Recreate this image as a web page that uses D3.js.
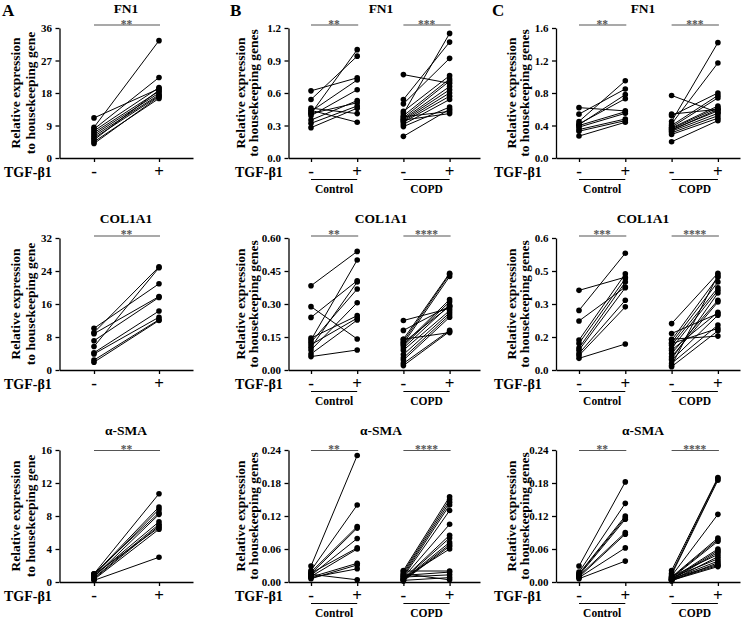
<!DOCTYPE html>
<html><head><meta charset="utf-8">
<script src="https://cdn.jsdelivr.net/npm/d3@7"></script>
<style>
body{margin:0;background:#fff;}
svg{display:block;}
</style></head>
<body><svg id="c" width="743" height="619"></svg>
<script>
// ---------- DATA ----------
const genes = ["FN1", "COL1A1", "α-SMA"];
const groupNames = ["Control", "COPD"];
const treatLabels = ["-", "+"];

// Column A (single group)
const A_FN1_minus = [11.1, 8.5, 8.0, 7.5, 7.0, 6.5, 6.0, 5.5, 5.0, 4.5, 4.0];
const A_FN1_plus  = [19.2, 32.5, 22.3, 19.5, 18.5, 18.0, 17.5, 17.2, 18.8, 16.5, 17.0];
const A_COL_minus = [10.1, 9.1, 8.8, 5.7, 7.1, 4.2, 3.9, 2.4, 1.9];
const A_COL_plus  = [20.9, 25.0, 17.8, 24.8, 17.6, 14.3, 12.8, 12.2, 12.0];
const A_SMA_minus = [1.0, 0.9, 0.8, 1.0, 0.6, 0.7, 0.5, 0.4, 0.3, 0.2, 0.9];
const A_SMA_plus  = [10.7, 9.1, 8.8, 8.4, 8.2, 7.3, 7.0, 6.8, 6.4, 3.0, 6.6];

// Column B
const B_FN1_ctl_minus = [0.62, 0.54, 0.41, 0.43, 0.46, 0.39, 0.35, 0.32, 0.28, 0.41, 0.44];
const B_FN1_ctl_plus  = [0.74, 0.94, 1.00, 0.72, 0.41, 0.63, 0.53, 0.48, 0.46, 0.51, 0.33];
const B_FN1_copd_minus = [0.77, 0.54, 0.50, 0.41, 0.43, 0.39, 0.37, 0.36, 0.35, 0.34, 0.33, 0.31, 0.29, 0.20, 0.38, 0.35];
const B_FN1_copd_plus  = [0.69, 1.07, 0.92, 1.15, 0.76, 0.73, 0.71, 0.66, 0.63, 0.60, 0.57, 0.54, 0.47, 0.45, 0.43, 0.41];
const B_COL_ctl_minus = [0.383, 0.288, 0.239, 0.145, 0.136, 0.126, 0.103, 0.091, 0.073, 0.061, 0.115];
const B_COL_ctl_plus  = [0.539, 0.141, 0.406, 0.247, 0.500, 0.368, 0.400, 0.306, 0.227, 0.091, 0.236];
const B_COL_copd_minus = [0.225, 0.18, 0.14, 0.13, 0.12, 0.115, 0.11, 0.10, 0.09, 0.07, 0.055, 0.045, 0.03, 0.02, 0.14, 0.125];
const B_COL_copd_plus  = [0.28, 0.29, 0.44, 0.435, 0.425, 0.32, 0.31, 0.295, 0.27, 0.26, 0.25, 0.24, 0.18, 0.175, 0.17, 0.29];
const B_SMA_ctl_minus = [0.029, 0.021, 0.018, 0.015, 0.012, 0.016, 0.010, 0.009, 0.008, 0.014, 0.006];
const B_SMA_ctl_plus  = [0.230, 0.140, 0.101, 0.098, 0.079, 0.062, 0.060, 0.034, 0.024, 0.004, 0.031];
const B_SMA_copd_minus = [0.021, 0.018, 0.015, 0.012, 0.010, 0.008, 0.006, 0.005, 0.004, 0.003, 0.002, 0.007, 0.020, 0.012, 0.009, 0.003, 0.015];
const B_SMA_copd_plus  = [0.155, 0.150, 0.145, 0.140, 0.130, 0.105, 0.085, 0.080, 0.072, 0.068, 0.065, 0.060, 0.020, 0.018, 0.013, 0.008, 0.004];

// Column C
const C_FN1_ctl_minus = [0.62, 0.54, 0.45, 0.42, 0.40, 0.38, 0.35, 0.33, 0.27, 0.41];
const C_FN1_ctl_plus  = [0.58, 0.85, 0.95, 0.73, 0.57, 0.55, 0.48, 0.46, 0.44, 0.78];
const C_FN1_copd_minus = [0.77, 0.54, 0.45, 0.42, 0.52, 0.40, 0.38, 0.37, 0.36, 0.35, 0.33, 0.31, 0.29, 0.20, 0.34];
const C_FN1_copd_plus  = [0.56, 0.60, 1.42, 1.17, 0.80, 0.77, 0.74, 0.64, 0.62, 0.58, 0.55, 0.52, 0.49, 0.46, 0.60];
const C_COL_ctl_minus = [0.362, 0.271, 0.223, 0.136, 0.121, 0.090, 0.075, 0.066, 0.053, 0.100];
const C_COL_ctl_plus  = [0.422, 0.531, 0.377, 0.437, 0.415, 0.374, 0.317, 0.287, 0.118, 0.400];
const C_COL_copd_minus = [0.211, 0.166, 0.136, 0.124, 0.113, 0.098, 0.075, 0.060, 0.045, 0.030, 0.015, 0.140, 0.120, 0.090, 0.050, 0.020];
const C_COL_copd_plus  = [0.440, 0.256, 0.422, 0.400, 0.374, 0.362, 0.317, 0.309, 0.249, 0.204, 0.178, 0.154, 0.189, 0.262, 0.350, 0.430];
const C_SMA_ctl_minus = [0.029, 0.018, 0.015, 0.014, 0.012, 0.011, 0.009, 0.008, 0.006];
const C_SMA_ctl_plus  = [0.182, 0.143, 0.120, 0.117, 0.114, 0.090, 0.087, 0.062, 0.038];
const C_SMA_copd_minus = [0.021, 0.016, 0.013, 0.011, 0.009, 0.008, 0.007, 0.006, 0.005, 0.004, 0.010, 0.003, 0.008, 0.005, 0.002, 0.006, 0.004, 0.003];
const C_SMA_copd_plus  = [0.190, 0.188, 0.185, 0.123, 0.080, 0.077, 0.074, 0.060, 0.057, 0.054, 0.050, 0.046, 0.042, 0.038, 0.035, 0.032, 0.030, 0.028];

// Tick values and labels
const ticks_A_FN1 = [0, 9, 18, 27, 36];
const ticks_A_COL = [0, 8, 16, 24, 32];
const ticks_A_SMA = [0, 4, 8, 12, 16];
const ticks_B_FN1 = [0, 0.3, 0.6, 0.9, 1.2];
const labels_B_FN1 = ["0.0", "0.3", "0.6", "0.9", "1.2"];
const ticks_B_COL = [0, 0.15, 0.30, 0.45, 0.60];
const labels_B_COL = ["0.00", "0.15", "0.30", "0.45", "0.60"];
const ticks_SMA = [0, 0.06, 0.12, 0.18, 0.24];
const labels_SMA = ["0.00", "0.06", "0.12", "0.18", "0.24"];
const ticks_C_FN1 = [0, 0.4, 0.8, 1.2, 1.6];
const labels_C_FN1 = ["0.0", "0.4", "0.8", "1.2", "1.6"];
const ticks_C_COL = [0, 0.15, 0.30, 0.45, 0.60];
const labels_C_COL = ["0.0", "0.2", "0.3", "0.5", "0.6"];

const stars_A = ["**", "**", "**"];
const stars_B = [["**", "***"], ["**", "****"], ["**", "****"]];
const stars_C = [["**", "***"], ["***", "****"], ["**", "****"]];

// ---------- LAYOUT ----------
const cols = [
  {letter:"A", letterX:2, axisX:59.5, endX:193, x0:94, dx:65, ylab:[20,35], tgfX:4, titleX:126, gene:"gene"},
  {letter:"B", letterX:230, axisX:288.5, endX:480, x0:311, dx:46.2, ylab:[245,258], tgfX:235, titleX:381, gene:"genes"},
  {letter:"C", letterX:492, axisX:556, endX:740, x0:579, dx:46.3, ylab:[516,529], tgfX:494, titleX:643, gene:"genes"}
];
const rows = [
  {top:28, bottom:158, bar:25, title:13, starDy:2.5},
  {top:238, bottom:370, bar:236, title:223, starDy:2},
  {top:450, bottom:582, bar:450.5, title:435, starDy:2}
];

const panels = [
  {c:0, r:0, max:36, tv:ticks_A_FN1, tl:ticks_A_FN1.map(String), groups:[[A_FN1_minus, A_FN1_plus]], stars:[stars_A[0]]},
  {c:0, r:1, max:32, tv:ticks_A_COL, tl:ticks_A_COL.map(String), groups:[[A_COL_minus, A_COL_plus]], stars:[stars_A[1]]},
  {c:0, r:2, max:16, tv:ticks_A_SMA, tl:ticks_A_SMA.map(String), groups:[[A_SMA_minus, A_SMA_plus]], stars:[stars_A[2]]},
  {c:1, r:0, max:1.2, tv:ticks_B_FN1, tl:labels_B_FN1, groups:[[B_FN1_ctl_minus,B_FN1_ctl_plus],[B_FN1_copd_minus,B_FN1_copd_plus]], stars:stars_B[0]},
  {c:1, r:1, max:0.6, tv:ticks_B_COL, tl:labels_B_COL, groups:[[B_COL_ctl_minus,B_COL_ctl_plus],[B_COL_copd_minus,B_COL_copd_plus]], stars:stars_B[1]},
  {c:1, r:2, max:0.24, tv:ticks_SMA, tl:labels_SMA, groups:[[B_SMA_ctl_minus,B_SMA_ctl_plus],[B_SMA_copd_minus,B_SMA_copd_plus]], stars:stars_B[2]},
  {c:2, r:0, max:1.6, tv:ticks_C_FN1, tl:labels_C_FN1, groups:[[C_FN1_ctl_minus,C_FN1_ctl_plus],[C_FN1_copd_minus,C_FN1_copd_plus]], stars:stars_C[0]},
  {c:2, r:1, max:0.6, tv:ticks_C_COL, tl:labels_C_COL, groups:[[C_COL_ctl_minus,C_COL_ctl_plus],[C_COL_copd_minus,C_COL_copd_plus]], stars:stars_C[1]},
  {c:2, r:2, max:0.24, tv:ticks_SMA, tl:labels_SMA, groups:[[C_SMA_ctl_minus,C_SMA_ctl_plus],[C_SMA_copd_minus,C_SMA_copd_plus]], stars:stars_C[2]}
];

const FONT = "Liberation Serif";
const svg = d3.select("#c").attr("font-family", FONT).attr("font-weight", "bold");

cols.forEach(col => {
  svg.append("text").attr("x", col.letterX).attr("y", 16)
    .attr("font-family", FONT).attr("font-weight","bold")
    .attr("font-size", 17).text(col.letter);
});

panels.forEach(p => {
  const col = cols[p.c], row = rows[p.r];
  const g = svg.append("g").attr("font-family", FONT).attr("font-weight","bold");
  const y = d3.scaleLinear().domain([0, p.max]).range([row.bottom, row.top]);
  const x = d3.scaleLinear()
    .domain([(col.axisX - col.x0)/col.dx, (col.endX - col.x0)/col.dx])
    .range([col.axisX, col.endX]);

  // y axis
  const ya = g.append("g").attr("transform", `translate(${col.axisX},0)`)
    .call(d3.axisLeft(y).tickValues(p.tv).tickFormat((d,i)=>p.tl[i]).tickSize(4).tickSizeOuter(0).tickPadding(3.5));
  ya.attr("font-family", FONT).attr("font-size", 11).attr("font-weight","bold");
  ya.selectAll("text").attr("fill","#000");
  ya.selectAll("line,path").attr("stroke","#000").attr("stroke-width",1.3);

  // x axis
  const xTicks = [];
  p.groups.forEach((gr, gi) => { xTicks.push(gi*2, gi*2+1); });
  const xa = g.append("g").attr("transform", `translate(0,${row.bottom})`)
    .call(d3.axisBottom(x).tickValues(xTicks).tickFormat("").tickSize(4).tickSizeOuter(0));
  xa.attr("font-family", FONT);
  xa.selectAll("line,path").attr("stroke","#000").attr("stroke-width",1.3);

  // treatment labels
  xTicks.forEach(t => {
    g.append("text").attr("x", x(t)).attr("y", row.bottom + 19)
      .attr("text-anchor","middle").attr("font-size", 17).text(treatLabels[t%2]);
  });
  g.append("text").attr("x", col.tgfX).attr("y", row.bottom + 18.5)
    .attr("font-size", 14).text("TGF-β1");

  // group underline and labels
  if (p.groups.length > 1) {
    p.groups.forEach((gr, gi) => {
      g.append("line").attr("x1", x(gi*2)).attr("x2", x(gi*2+1))
        .attr("y1", row.bottom + 21.5).attr("y2", row.bottom + 21.5)
        .attr("stroke","#000").attr("stroke-width",1);
      g.append("text").attr("x", (x(gi*2)+x(gi*2+1))/2).attr("y", row.bottom + 34.5)
        .attr("text-anchor","middle").attr("font-size", 11.5).text(groupNames[gi]);
    });
  }

  // title
  g.append("text").attr("x", col.titleX).attr("y", row.title)
    .attr("text-anchor","middle").attr("font-size", 13.5).text(genes[p.r]);

  // y axis label
  const cy = (row.top + row.bottom)/2;
  ["Relative expression", "to housekeeping " + col.gene].forEach((t, i) => {
    g.append("text").attr("transform", `translate(${col.ylab[i]},${cy}) rotate(-90)`)
      .attr("text-anchor","middle").attr("font-size", 13.5).text(t);
  });

  // significance bars
  p.groups.forEach((gr, gi) => {
    const yb = row.bar;
    g.append("line").attr("x1", x(gi*2)).attr("x2", x(gi*2+1) + 1)
      .attr("y1", yb).attr("y2", yb).attr("stroke","#555").attr("stroke-width",1.2);
    g.append("text").attr("x", (x(gi*2)+x(gi*2+1))/2).attr("y", yb + row.starDy)
      .attr("text-anchor","middle").attr("font-size", 11.5).attr("fill","#555").text(p.stars[gi]);
  });

  // paired lines and points
  p.groups.forEach((gr, gi) => {
    const [mi, pl] = gr;
    const pairs = mi.map((v, i) => [v, pl[i]]);
    g.append("g").selectAll("line").data(pairs).join("line")
      .attr("x1", x(gi*2)).attr("x2", x(gi*2+1))
      .attr("y1", d => y(d[0])).attr("y2", d => y(d[1]))
      .attr("stroke","#000").attr("stroke-width",1);
    const pts = [];
    pairs.forEach(d => { pts.push([gi*2, d[0]]); pts.push([gi*2+1, d[1]]); });
    g.append("g").selectAll("circle").data(pts).join("circle")
      .attr("cx", d => x(d[0])).attr("cy", d => y(d[1])).attr("r", 2.8).attr("fill","#000");
  });
});
</script></body></html>
